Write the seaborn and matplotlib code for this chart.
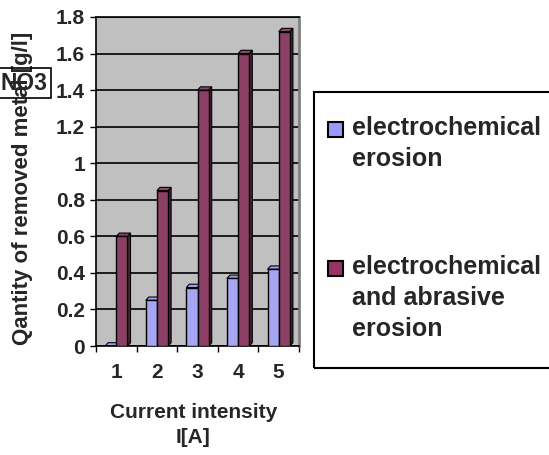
import matplotlib
matplotlib.use("Agg")
import matplotlib.pyplot as plt
import seaborn as sns
import pandas as pd
from matplotlib.patches import Polygon, Rectangle
import matplotlib.colors as mcolors

categories = ["1", "2", "3", "4", "5"]
electrochemical = [0.0, 0.25, 0.32, 0.37, 0.42]
electro_abrasive = [0.60, 0.85, 1.40, 1.60, 1.72]
series_labels = ["electrochemical\nerosion", "electrochemical\nand abrasive\nerosion"]
yticks = [0, 0.2, 0.4, 0.6, 0.8, 1.0, 1.2, 1.4, 1.6, 1.8]
ytick_labels = ["0", "0.2", "0.4", "0.6", "0.8", "1", "1.2", "1.4", "1.6", "1.8"]

colors = ["#9999FF", "#993366"]

df = pd.DataFrame({
    "I": categories * 2,
    "value": electrochemical + electro_abrasive,
    "series": [series_labels[0]] * 5 + [series_labels[1]] * 5,
})

sns.set_theme(style="white")
plt.rcParams["font.family"] = ["Liberation Sans", "DejaVu Sans"]
plt.rcParams["font.weight"] = "bold"

W, H = 549, 455
fig = plt.figure(figsize=(W / 100, H / 100), dpi=100)
ax = fig.add_axes([96 / W, (H - 346) / H, 203 / W, (346 - 17) / H])
ax.set_facecolor("#C0C0C0")

sns.barplot(data=df, x="I", y="value", hue="series", palette=colors,
            width=0.55, edgecolor="black", linewidth=1.0, legend=False,
            ax=ax, zorder=3)

# 3D depth faces derived from bars
dx, dy = 0.075, 0.018
for p in list(ax.patches):
    x, w, h = p.get_x(), p.get_width(), p.get_height()
    rgb = mcolors.to_rgb(p.get_facecolor())
    dark = tuple(c * 0.55 for c in rgb)
    light = tuple(min(1, c * 0.9 + 0.05) for c in rgb)
    side = Polygon([(x + w, 0), (x + w + dx, dy), (x + w + dx, h + dy), (x + w, h)],
                   closed=True, facecolor=dark, edgecolor="black", linewidth=0.8, zorder=2.5)
    top = Polygon([(x, h), (x + dx, h + dy), (x + w + dx, h + dy), (x + w, h)],
                  closed=True, facecolor=light, edgecolor="black", linewidth=0.8, zorder=2.5)
    ax.add_patch(side)
    ax.add_patch(top)

ax.set_xlim(-0.5, 4.5)
ax.set_ylim(0, 1.8)
ax.set_yticks(yticks)
ax.set_yticklabels(ytick_labels)
ax.yaxis.grid(True, color="black", linewidth=1.2, zorder=0)
ax.set_axisbelow(True)

ax.tick_params(axis="y", which="major", direction="out", length=4, width=1,
               color="black", labelsize=15, pad=4, left=True)
ax.set_xticks(range(5))
ax.set_xticklabels(categories)
ax.set_xticks([i - 0.5 for i in range(6)], minor=True)
ax.tick_params(axis="x", which="major", length=0, labelsize=15, pad=12)
ax.tick_params(axis="x", which="minor", direction="out", length=4, width=1,
               color="black", bottom=True)
for lbl in ax.get_xticklabels() + ax.get_yticklabels():
    lbl.set_fontweight("bold")

for side_name in ["left", "bottom"]:
    ax.spines[side_name].set_color("black")
    ax.spines[side_name].set_linewidth(1.2)
ax.spines["right"].set_color("#808080")
ax.spines["right"].set_linewidth(2)
ax.spines["top"].set_color("black")
ax.spines["top"].set_linewidth(1.2)

ax.set_ylabel("Qantity of removed metal [g/l]", fontsize=16, fontweight="bold")
ax.yaxis.set_label_coords((33 - 96) / 203, (346 - 188) / 329)
ax.set_xlabel("Current intensity\nI[A]", fontsize=15, fontweight="bold", linespacing=1.4)
ax.xaxis.set_label_coords(0.48, (346 - 403) / 329)

fig.text(1 / W, 1 - 83 / H, "NO3", fontsize=16.5, fontweight="bold",
         ha="left", va="center",
         bbox=dict(boxstyle="square,pad=0.15", fc="none", ec="black", lw=1.2))

# legend
fig.add_artist(Rectangle((314 / W, (H - 368) / H), (W + 20 - 314) / W, (368 - 92) / H,
                         transform=fig.transFigure, fill=False, edgecolor="black",
                         linewidth=1.5))
marker_tops = [122, 261]
for col, lab, mt in zip(colors, series_labels, marker_tops):
    fig.add_artist(Rectangle((328 / W, (H - mt - 15) / H), 15 / W, 15 / H,
                             transform=fig.transFigure, facecolor=col,
                             edgecolor="black", linewidth=1.5))
    fig.text(352 / W, (H - mt + 6) / H, lab, fontsize=18, fontweight="bold",
             ha="left", va="top", linespacing=1.38)

fig.savefig("out.png", dpi=100)
